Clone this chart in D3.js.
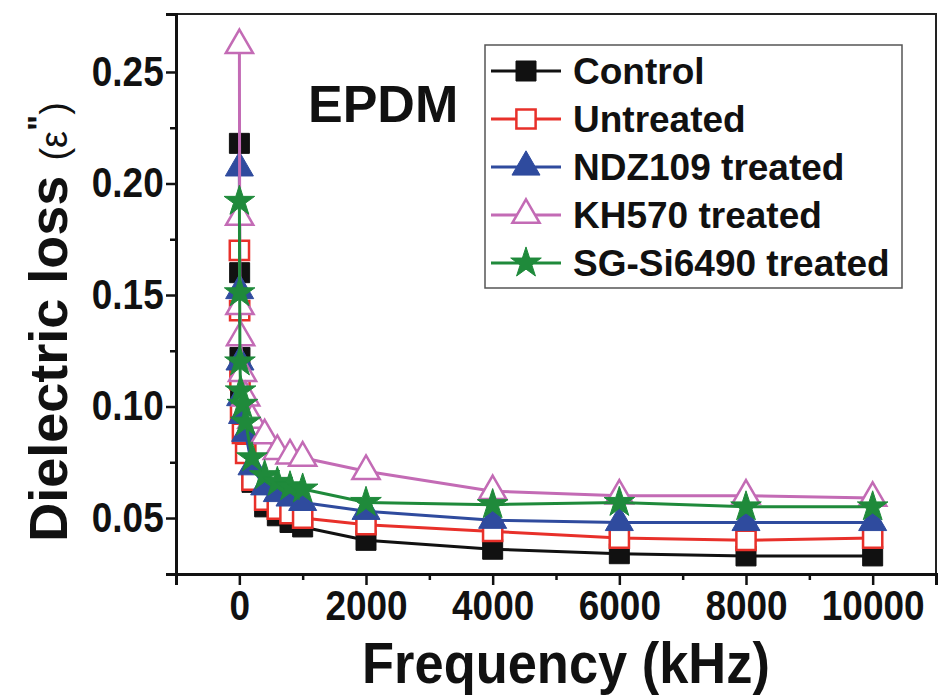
<!DOCTYPE html>
<html>
<head>
<meta charset="utf-8">
<script src="https://cdn.jsdelivr.net/npm/d3@7"></script>
<style>
  body { margin: 0; background: #fff; }
  svg { font-family: "Liberation Sans", Arial, sans-serif; }
</style>
</head>
<body>
<svg id="chart" width="938" height="698"></svg>
<script>
// frequency in kHz
const frequency = [1, 5, 10, 20, 50, 100, 200, 400, 600, 800, 1000, 2000, 4000, 6000, 8000, 10000];

const control   = [0.218, 0.160, 0.122, 0.103, 0.092, 0.080, 0.066, 0.055, 0.051, 0.048, 0.046, 0.040, 0.036, 0.034, 0.033, 0.033];
const untreated = [0.170, 0.143, 0.112, 0.097, 0.088, 0.079, 0.067, 0.058, 0.054, 0.052, 0.050, 0.047, 0.044, 0.041, 0.040, 0.041];
const ndz109    = [0.207, 0.152, 0.120, 0.104, 0.096, 0.088, 0.073, 0.064, 0.061, 0.059, 0.057, 0.053, 0.049, 0.048, 0.048, 0.048];
const kh570     = [0.262, 0.185, 0.145, 0.131, 0.115, 0.104, 0.094, 0.087, 0.080, 0.078, 0.077, 0.071, 0.062, 0.060, 0.060, 0.059];
const sgsi6490  = [0.192, 0.151, 0.120, 0.107, 0.101, 0.093, 0.077, 0.069, 0.066, 0.064, 0.063, 0.057, 0.056, 0.057, 0.055, 0.055];

const seriesNames = ['Control', 'Untreated', 'NDZ109 treated', 'KH570 treated', 'SG-Si6490 treated'];

const xMajor = [0, 2000, 4000, 6000, 8000, 10000];
const xMinor = [-1000, 1000, 3000, 5000, 7000, 9000, 11000];
const yMajor = [0.05, 0.10, 0.15, 0.20, 0.25];
const yMinor = [0.025, 0.075, 0.125, 0.175, 0.225];

const series = [
  { name: seriesNames[0], values: control,   color: '#111111', shape: d3.symbolSquare,   size: 400, fill: '#111111' },
  { name: seriesNames[1], values: untreated, color: '#e8302a', shape: d3.symbolSquare,   size: 370, fill: '#ffffff' },
  { name: seriesNames[2], values: ndz109,    color: '#2f4b9e', shape: d3.symbolTriangle, size: 340, fill: '#2f4b9e' },
  { name: seriesNames[3], values: kh570,     color: '#c36bb5', shape: d3.symbolTriangle, size: 320, fill: '#ffffff' },
  { name: seriesNames[4], values: sgsi6490,  color: '#1f8a3b', shape: d3.symbolStar,     size: 290, fill: '#1f8a3b' },
];

const svg = d3.select('#chart');

// Define dimensions and margins
const margin = { top: 14, right: 2, bottom: 124, left: 176 };
const width = 938 - margin.left - margin.right;
const height = 698 - margin.top - margin.bottom;

const x = d3.scaleLinear().domain([-1000, 11000]).range([0, width]);
const y = d3.scaleLinear().domain([0.0249, 0.2760]).range([height, 0]);

const g = svg.append('g').attr('transform', `translate(${margin.left}, ${margin.top})`);

// frame
g.append('rect')
  .attr('width', width)
  .attr('height', height)
  .attr('fill', 'none')
  .attr('stroke', '#222')
  .attr('stroke-width', 2);

// Add axes
const xAxis = d3.axisBottom(x).tickValues(xMajor).tickSize(11).tickPadding(5).tickFormat(d3.format('d'));
const xAxisMinor = d3.axisBottom(x).tickValues(xMinor).tickSize(6).tickFormat('');
const yAxis = d3.axisLeft(y).tickValues(yMajor).tickSize(10).tickPadding(4).tickFormat(d3.format('.2f'));
const yAxisMinor = d3.axisLeft(y).tickValues(yMinor).tickSize(6).tickFormat('');

function styleAxis(sel) {
  sel.selectAll('.domain').attr('stroke', '#111').attr('stroke-width', 3);
  sel.selectAll('.tick line').attr('stroke', '#111').attr('stroke-width', 2.5);
}

g.append('g').attr('transform', `translate(0, ${height})`).call(xAxisMinor).call(styleAxis);
const gx = g.append('g').attr('transform', `translate(0, ${height})`).call(xAxis).call(styleAxis);
gx.selectAll('.tick text')
  .attr('font-size', 42)
  .attr('font-weight', 'bold')
  .attr('fill', '#111')
  .attr('transform', 'scale(0.88,1)');

g.append('g').call(yAxisMinor).call(styleAxis);
const gy = g.append('g').call(yAxis).call(styleAxis);
gy.selectAll('.tick text')
  .attr('font-size', 42)
  .attr('font-weight', 'bold')
  .attr('fill', '#111')
  .attr('transform', 'scale(0.88,1)');

// lines and markers
const line = d3.line()
  .x((d, i) => x(frequency[i]))
  .y((d) => y(d));

series.forEach((s) => {
  const sg = g.append('g');
  sg.append('path')
    .attr('d', line(s.values))
    .attr('fill', 'none')
    .attr('stroke', s.color)
    .attr('stroke-width', 3);

  sg.selectAll('.pt')
    .data(s.values)
    .enter()
    .append('path')
    .attr('class', 'pt')
    .attr('transform', (d, i) => `translate(${x(frequency[i])}, ${y(d)})`)
    .attr('d', d3.symbol().type(s.shape).size(s.size))
    .attr('fill', s.fill)
    .attr('stroke', s.color)
    .attr('stroke-width', s.fill === '#ffffff' ? 2.5 : 1);
});

// EPDM label
svg.append('text')
  .attr('x', 308)
  .attr('y', 122)
  .attr('font-size', 52)
  .attr('font-weight', 'bold')
  .attr('fill', '#111')
  .text('EPDM');

// legend
const legend = svg.append('g');
legend.append('rect')
  .attr('x', 485)
  .attr('y', 45)
  .attr('width', 417)
  .attr('height', 243)
  .attr('fill', '#fff')
  .attr('stroke', '#555')
  .attr('stroke-width', 1.5);

series.forEach((s, i) => {
  const ly = 71 + i * 48;
  const row = legend.append('g').attr('transform', `translate(0, ${ly})`);
  row.append('line')
    .attr('x1', 491).attr('x2', 561)
    .attr('y1', 0).attr('y2', 0)
    .attr('stroke', s.color)
    .attr('stroke-width', 3);
  row.append('path')
    .attr('transform', 'translate(526, 0)')
    .attr('d', d3.symbol().type(s.shape).size(s.size))
    .attr('fill', s.fill)
    .attr('stroke', s.color)
    .attr('stroke-width', s.fill === '#ffffff' ? 2.5 : 1);
  row.append('text')
    .attr('x', 573)
    .attr('y', 13)
    .attr('font-size', 37)
    .attr('font-weight', 'bold')
    .attr('fill', '#111')
    .text(s.name);
});

// axis titles
svg.append('text')
  .attr('x', 566)
  .attr('y', 683)
  .attr('text-anchor', 'middle')
  .attr('font-size', 57)
  .attr('font-weight', 'bold')
  .attr('fill', '#111')
  .attr('transform', 'translate(566,0) scale(0.92,1) translate(-566,0)')
  .text('Frequency (kHz)');

const yTitle = svg.append('text')
  .attr('transform', 'translate(67, 322) rotate(-90)')
  .attr('text-anchor', 'middle')
  .attr('fill', '#111');
yTitle.append('tspan').attr('font-size', 54).attr('font-weight', 'bold').text('Dielectric loss ');
yTitle.append('tspan').attr('font-size', 38).text('(ε');
yTitle.append('tspan').attr('font-size', 34).attr('font-weight', 'bold').attr('dy', -16).text('"');
yTitle.append('tspan').attr('font-size', 38).attr('dy', 16).text(')');
</script>
</body>
</html>
